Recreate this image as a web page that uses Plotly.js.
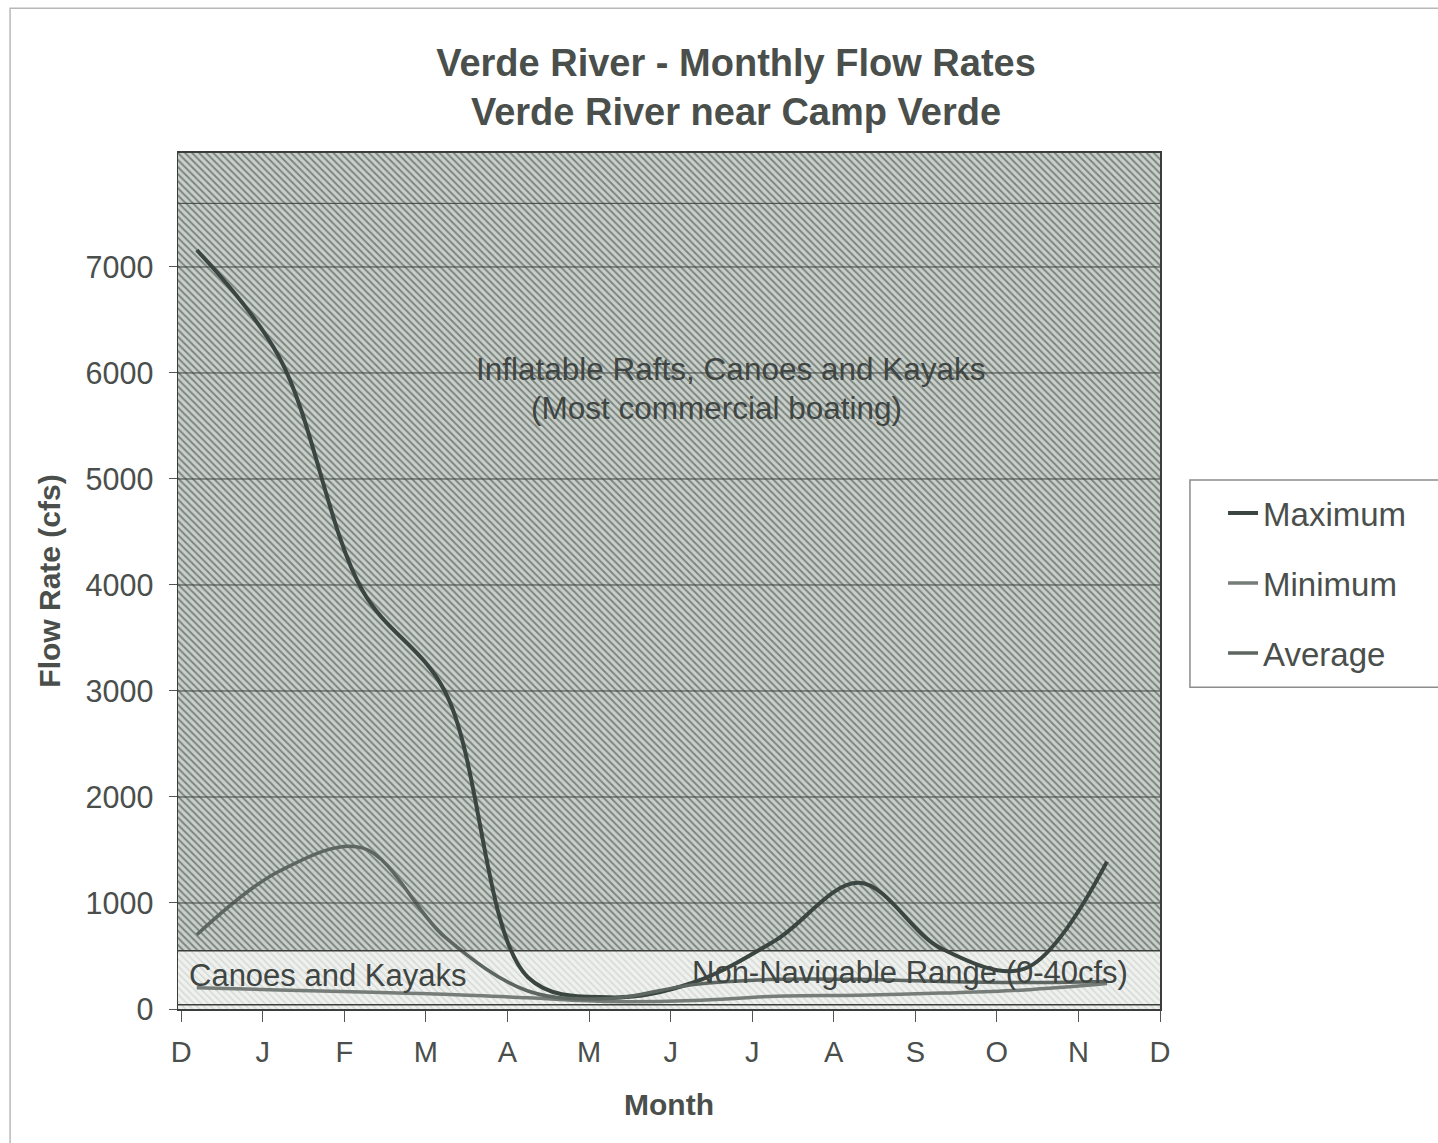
<!DOCTYPE html>
<html>
<head>
<meta charset="utf-8">
<script src="https://cdn.plot.ly/plotly-3.0.1.min.js"></script>
<style>
  html, body { margin: 0; padding: 0; background: #ffffff; }
  #chart { width: 1438px; height: 1143px; }
</style>
</head>
<body>
<div id="chart"></div>
<script>
// ---------- data ----------
const monthLabels = ['D','J','F','M','A','M','J','J','A','S','O','N','D'];
const monthTicks  = [0,1,2,3,4,5,6,7,8,9,10,11,12];
// x positions of the monthly data points (Dec ... Nov)
const pointMonths = [0.19, 1.2, 2.22, 3.23, 4.25, 5.26, 6.28, 7.29, 8.31, 9.32, 10.34, 11.35];
const maximumFlow = [7160, 6150, 3950, 3000, 300, 110, 250, 650, 1190, 570, 380, 1390];
const minimumFlow = [200, 180, 160, 140, 105, 70, 80, 120, 130, 150, 180, 240];
const averageFlow = [700, 1300, 1520, 680, 170, 100, 230, 280, 280, 260, 250, 260];
const yTicks = [0, 1000, 2000, 3000, 4000, 5000, 6000, 7000];
// boating range thresholds (cfs)
const nonNavigableMax = 40;
const canoeMax = 550;
const upperRangeLine = 7600;
const yTop = 8075;
const xRange = [-0.04, 12.0];

const textColor = '#4a4f4c';
const font = 'Liberation Sans, Arial, sans-serif';

function band(lo, hi, bg, fg, solidity) {
  return {
    type: 'scatter', mode: 'none', hoverinfo: 'skip', showlegend: false,
    x: [xRange[0], xRange[1], xRange[1], xRange[0]],
    y: [lo, lo, hi, hi],
    fill: 'toself', fillcolor: bg,
    fillpattern: { shape: '\\', bgcolor: bg, fgcolor: fg, size: 5, solidity: solidity }
  };
}

const traces = [
  band(0, nonNavigableMax, '#eef0ee', '#d4d8d4', 0.3),
  band(nonNavigableMax, canoeMax, '#eff1ef', '#d6dad6', 0.3),
  band(canoeMax, yTop, '#c9cfca', '#7c847e', 0.38),
  { type: 'scatter', mode: 'lines', name: 'Maximum', legendgroup: 'a',
    x: pointMonths, y: maximumFlow,
    line: { color: '#3b4541', width: 4, shape: 'spline', smoothing: 1 } },
  { type: 'scatter', mode: 'lines', name: 'Minimum', legendgroup: 'b',
    x: pointMonths, y: minimumFlow,
    line: { color: '#767d78', width: 3.5, shape: 'spline', smoothing: 1 } },
  { type: 'scatter', mode: 'lines', name: 'Average', legendgroup: 'c',
    x: pointMonths, y: averageFlow,
    line: { color: '#5d6661', width: 3.5, shape: 'spline', smoothing: 1 } }
];

const shapes = [];
yTicks.slice(1).concat([upperRangeLine]).forEach(v => {
  shapes.push({ type: 'line', xref: 'paper', yref: 'y', x0: 0, x1: 1, y0: v, y1: v,
    layer: 'above', line: { color: '#3e4240', width: 1 } });
});
[nonNavigableMax, canoeMax].forEach(v => {
  shapes.push({ type: 'line', xref: 'paper', yref: 'y', x0: 0, x1: 1, y0: v, y1: v,
    layer: 'above', line: { color: '#3a3d3b', width: 1.5 } });
});
// outer chart frame
shapes.push({ type: 'rect', xref: 'paper', yref: 'paper', x0: -0.171, x1: 1.4, y0: -0.2, y1: 1.169,
  layer: 'below', line: { color: '#b8b8b8', width: 1.5 }, fillcolor: 'rgba(0,0,0,0)' });
// legend frame (runs off the right edge like the original)
shapes.push({ type: 'rect', xref: 'paper', yref: 'paper', x0: 1.0305, x1: 1.3, y0: 0.376, y1: 0.618,
  layer: 'below', line: { color: '#8c8c8c', width: 1.5 }, fillcolor: '#ffffff' });

const annotations = [
  { x: 6.74, y: 6040, text: 'Inflatable Rafts, Canoes and Kayaks', showarrow: false,
    xanchor: 'center', yanchor: 'middle', font: { family: font, size: 31.5, color: '#3f4542' } },
  { x: 6.56, y: 5670, text: '(Most commercial boating)', showarrow: false,
    xanchor: 'center', yanchor: 'middle', font: { family: font, size: 31.5, color: '#3f4542' } },
  { x: 0.07, y: 320, text: 'Canoes and Kayaks', showarrow: false,
    xanchor: 'left', yanchor: 'middle', font: { family: font, size: 31, color: '#3f4542' } },
  { x: 6.24, y: 340, text: 'Non-Navigable Range (0-40cfs)', showarrow: false,
    xanchor: 'left', yanchor: 'middle', font: { family: font, size: 31, color: '#3f4542' } }
];

const layout = {
  width: 1438, height: 1143,
  margin: { l: 178, r: 278, t: 153, b: 134, pad: 0 },
  paper_bgcolor: '#ffffff', plot_bgcolor: '#ffffff',
  font: { family: font, color: textColor },
  title: {
    text: '<b>Verde River - Monthly Flow Rates<br>Verde River near Camp Verde</b>',
    font: { family: font, size: 38, color: textColor },
    x: 736 / 1438, xref: 'container', xanchor: 'center',
    y: 1 - 76 / 1143, yref: 'container', yanchor: 'middle'
  },
  xaxis: {
    range: xRange, tickvals: monthTicks, ticktext: monthLabels,
    ticks: 'outside', ticklen: 11, tickcolor: '#555', tickwidth: 1,
    showgrid: false, zeroline: false,
    showline: true, mirror: true, linecolor: '#3a3d3b', linewidth: 2,
    tickfont: { family: font, size: 29, color: textColor },
    ticklabelstandoff: 5,
    title: { text: '<b>Month</b>', font: { family: font, size: 30, color: textColor }, standoff: 27 },
    fixedrange: true
  },
  yaxis: {
    range: [0, yTop], tickvals: yTicks,
    ticks: 'outside', ticklen: 8, tickcolor: '#555', tickwidth: 1,
    showgrid: false, zeroline: false,
    showline: true, mirror: true, linecolor: '#3a3d3b', linewidth: 1.5,
    tickfont: { family: font, size: 30.5, color: textColor },
    ticklabelstandoff: 9,
    title: { text: '<b>Flow Rate (cfs)</b>', font: { family: font, size: 30, color: textColor }, standoff: 16 },
    fixedrange: true
  },
  legend: {
    x: 1.0642, xanchor: 'left', y: 0.612, yanchor: 'top',
    bgcolor: 'rgba(0,0,0,0)', borderwidth: 0,
    font: { family: font, size: 33, color: textColor },
    tracegroupgap: 24, traceorder: 'grouped'
  },
  shapes: shapes,
  annotations: annotations,
  showlegend: true
};

Plotly.newPlot('chart', traces, layout, { displayModeBar: false, staticPlot: true });
</script>
</body>
</html>
